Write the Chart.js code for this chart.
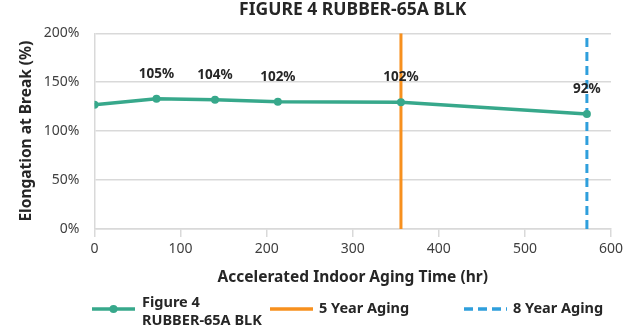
<!DOCTYPE html>
<html>
<head>
<meta charset="utf-8">
<script src="https://cdn.jsdelivr.net/npm/chart.js@4.4.1/dist/chart.umd.min.js"></script>
<style>
  html, body { margin: 0; padding: 0; background: #fff; }
  #wrap { position: relative; width: 640px; height: 336px; }
</style>
</head>
<body>
<div id="wrap"><canvas id="c" width="640" height="336"></canvas></div>
<script>
const chartTitle = 'FIGURE 4 RUBBER-65A BLK';
const seriesName = 'Figure 4\nRUBBER-65A BLK';
const hours = [0, 72, 140, 213, 356, 572];
const elongation = [127, 133, 132, 130, 129.5, 117.5];
const pointLabels = ['', '105%', '104%', '102%', '102%', '92%'];
const fiveYearHours = 356;
const eightYearHours = 572;
const yRange = [0, 200];
const xRange = [0, 600];
const xTitle = 'Accelerated Indoor Aging Time (hr)';
const yTitle = 'Elongation at Break (%)';

const FONT = "'Noto Sans', 'Open Sans', sans-serif";
const TEAL = '#37a88b';
const ORANGE = '#f7901e';
const BLUE = '#2f9fdc';
const TEXT = '#262626';

const pointLabelPlugin = {
  id: 'pointLabels',
  afterDatasetsDraw(chart) {
    const meta = chart.getDatasetMeta(0);
    const ctx = chart.ctx;
    ctx.save();
    ctx.font = 'bold 13.5px ' + FONT;
    ctx.fillStyle = TEXT;
    ctx.textAlign = 'center';
    ctx.textBaseline = 'middle';
    meta.data.forEach((pt, i) => {
      if (pointLabels[i]) ctx.fillText(pointLabels[i], pt.x, pt.y - 25);
    });
    ctx.restore();
  }
};

const legendPlugin = {
  id: 'customLegend',
  afterDraw(chart) {
    const ctx = chart.ctx;
    const ds = chart.data.datasets;
    const items = [
      { x: 92, textX: 142 },
      { x: 270, textX: 319 },
      { x: 464, textX: 513 }
    ];
    const cy = 309;
    ctx.save();
    ctx.font = 'bold 14.5px ' + FONT;
    ctx.textBaseline = 'middle';
    ctx.textAlign = 'left';
    items.forEach((it, i) => {
      const d = ds[i];
      ctx.strokeStyle = d.borderColor;
      ctx.lineWidth = 3.5;
      ctx.setLineDash(d.borderDash || []);
      ctx.beginPath();
      ctx.moveTo(it.x, cy);
      ctx.lineTo(it.x + 43, cy);
      ctx.stroke();
      ctx.setLineDash([]);
      if (d.pointRadius > 0) {
        ctx.fillStyle = d.borderColor;
        ctx.beginPath();
        ctx.arc(it.x + 21.5, cy, 4, 0, Math.PI * 2);
        ctx.fill();
      }
      ctx.fillStyle = TEXT;
      const lines = d.label.split('\n');
      if (lines.length === 1) {
        ctx.fillText(lines[0], it.textX, cy);
      } else {
        ctx.fillText(lines[0], it.textX, cy - 6);
        ctx.fillText(lines[1], it.textX, cy + 12);
      }
    });
    ctx.restore();
  }
};

new Chart(document.getElementById('c'), {
  type: 'line',
  data: {
    datasets: [
      {
        label: seriesName,
        data: hours.map((h, i) => ({ x: h, y: elongation[i] })),
        borderColor: TEAL,
        backgroundColor: TEAL,
        borderWidth: 3.5,
        pointRadius: 4,
        pointBackgroundColor: TEAL,
        pointBorderWidth: 0,
        tension: 0
      },
      {
        label: '5 Year Aging',
        data: [{ x: fiveYearHours, y: yRange[0] }, { x: fiveYearHours, y: yRange[1] }],
        borderColor: ORANGE,
        borderWidth: 3,
        pointRadius: 0
      },
      {
        label: '8 Year Aging',
        data: [{ x: eightYearHours, y: yRange[0] }, { x: eightYearHours, y: yRange[1] }],
        borderColor: BLUE,
        borderWidth: 3,
        borderDash: [9, 5],
        pointRadius: 0
      }
    ]
  },
  options: {
    responsive: false,
    animation: false,
    events: [],
    layout: { padding: { left: 0, right: 29, top: 0, bottom: 47 } },
    plugins: {
      legend: { display: false },
      tooltip: { enabled: false },
      title: {
        display: true,
        text: chartTitle,
        fullSize: false,
        color: TEXT,
        font: { family: FONT, size: 17.5, weight: 'bold', lineHeight: 1.1 },
        padding: { top: 0, bottom: 14 }
      }
    },
    scales: {
      x: {
        type: 'linear',
        min: xRange[0],
        max: xRange[1],
        ticks: {
          stepSize: 100,
          color: '#404040',
          font: { family: FONT, size: 14 },
          padding: 4,
          maxRotation: 0
        },
        grid: {
          drawOnChartArea: false,
          drawTicks: true,
          tickLength: 8,
          color: '#d9d9d9',
          lineWidth: 1.5
        },
        border: { color: '#d9d9d9', width: 1.5 },
        title: {
          display: true,
          text: xTitle,
          color: TEXT,
          font: { family: FONT, size: 15.5, weight: 'bold' },
          padding: { top: 0, bottom: 2 }
        },
        afterFit(scale) { scale.height = 60; }
      },
      y: {
        min: yRange[0],
        max: yRange[1],
        ticks: {
          stepSize: 50,
          color: '#404040',
          font: { family: FONT, size: 14 },
          padding: 15,
          callback: v => v + '%'
        },
        grid: {
          drawTicks: false,
          color: '#d9d9d9',
          lineWidth: 1.5
        },
        border: { color: '#d9d9d9', width: 1.5 },
        title: {
          display: true,
          text: yTitle,
          color: TEXT,
          font: { family: FONT, size: 15.5, weight: 'bold' },
          padding: { top: 17, bottom: 0 }
        },
        afterFit(scale) { scale.width = 94.5; }
      }
    }
  },
  plugins: [pointLabelPlugin, legendPlugin]
});
</script>
</body>
</html>
